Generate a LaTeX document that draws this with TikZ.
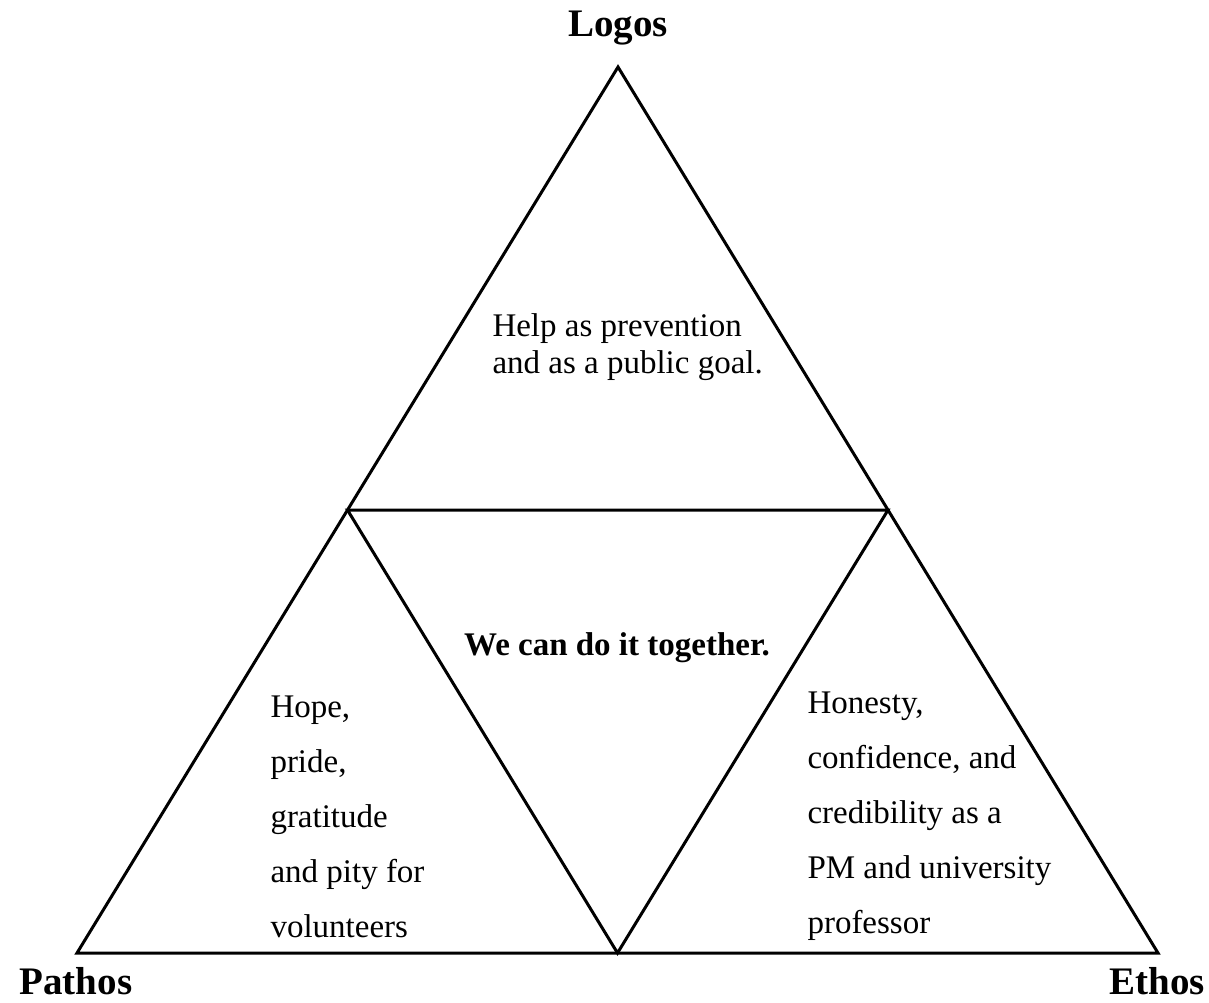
\documentclass[tikz,border=0pt]{standalone}
\usepackage{fontspec}
\setmainfont{Liberation Serif}
\usetikzlibrary{calc}

\begin{document}
\begin{tikzpicture}[x=0.5pt,y=-0.5pt,line width=1.5pt,
    corner/.style={font=\bfseries\fontsize{19.5}{23}\selectfont},
    body/.style={font=\fontsize{16.5}{27.5}\selectfont,align=left,anchor=west,inner sep=0pt}]
  \useasboundingbox (0,0) rectangle (1209,1002);
  % Corners of the big triangle
  \coordinate (top) at (618,67);
  \coordinate (bl) at (77,953);
  \coordinate (br) at (1158,953);
  % Midpoints of its sides
  \coordinate (ml) at ($(top)!0.5!(bl)$);
  \coordinate (mr) at ($(top)!0.5!(br)$);
  \coordinate (mb) at ($(bl)!0.5!(br)$);
  % Draw outer triangle
  \draw (top) -- (bl) -- (br) -- cycle;
  % Draw inner triangle
  \draw (ml) -- (mr) -- (mb) -- cycle;
  % Corner labels
  \node[corner] (logos) at (618,28) {Logos};
  \node[corner] (pathos) at (76,981) {Pathos};
  \node[corner] (ethos) at (1157,981) {Ethos};
  % Text in the four parts
  \node[body,font=\fontsize{16.5}{18.5}\selectfont] (logostext) at (491,347)
    {Help as prevention\\and as a public goal.};
  \node[font=\bfseries\fontsize{16.5}{18.5}\selectfont] (together) at (617,648)
    {We can do it together.};
  \node[body] (pathostext) at (269,817)
    {Hope,\\pride,\\gratitude\\and pity for\\volunteers};
  \node[body] (ethostext) at (806,816)
    {Honesty,\\confidence, and\\credibility as a\\PM and university\\professor};
\end{tikzpicture}
\end{document}
